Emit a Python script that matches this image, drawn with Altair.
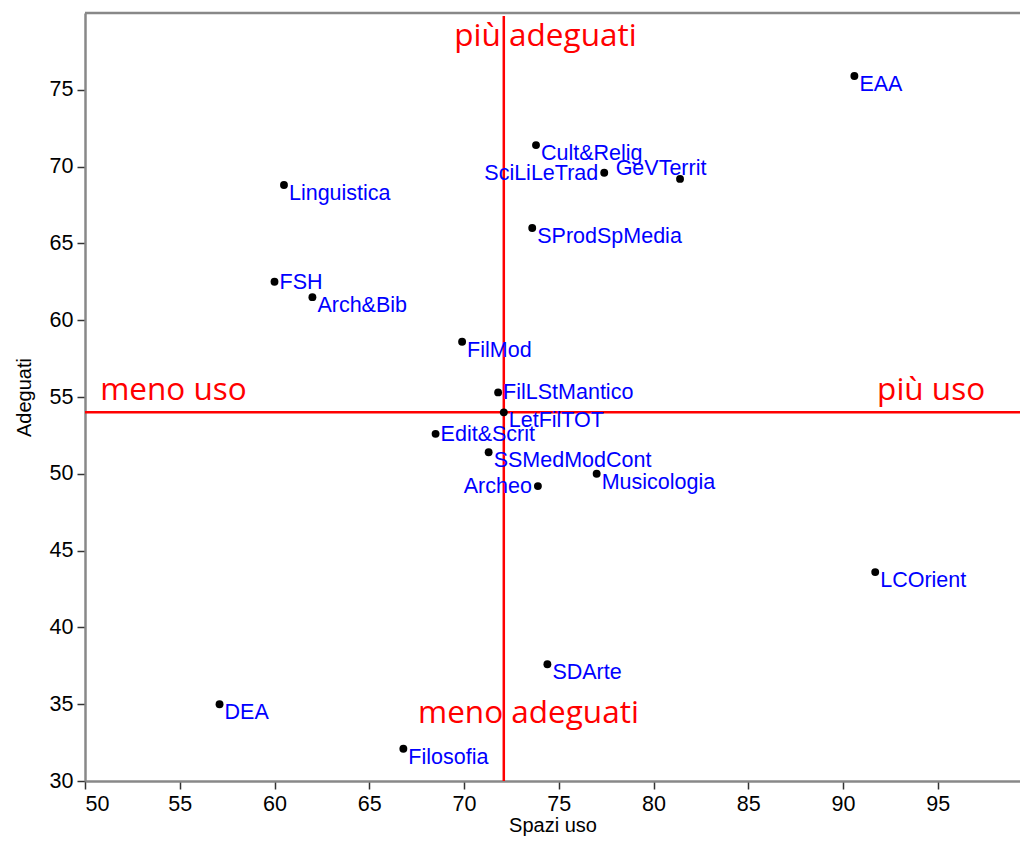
import altair as alt
import pandas as pd

# ---- data ----
names = ["EAA", "Cult&Relig", "SciLiLeTrad", "GeVTerrit", "Linguistica", "SProdSpMedia",
         "FSH", "Arch&Bib", "FilMod", "FilLStMantico", "LetFilTOT", "Edit&Scrit",
         "SSMedModCont", "Archeo", "Musicologia", "LCOrient", "SDArte", "DEA", "Filosofia"]
spazi_uso = [90.6, 73.8, 77.4, 81.4, 60.5, 73.6,
             60.0, 62.0, 69.9, 71.8, 72.1, 68.5,
             71.3, 73.9, 77.0, 91.7, 74.4, 57.1, 66.8]
adeguati = [75.9, 71.4, 69.6, 69.2, 68.8, 66.0,
            62.5, 61.5, 58.6, 55.3, 54.0, 52.6,
            51.4, 49.2, 50.0, 43.6, 37.6, 35.0, 32.1]
# label placement code: br = right/below, r = right, l = left, a = above
label_pos = ["br", "br", "l", "a", "br", "br",
             "r", "br", "br", "r", "br", "r",
             "br", "l", "br", "br", "br", "br", "br"]

ref_x = 72.1   # LetFilTOT
ref_y = 54.0

quad_text = ["più adeguati", "meno adeguati", "meno uso", "più uso"]
quad_x = [74.3, 73.4, 50.8, 97.5]
quad_y = [77.85, 33.8, 54.8, 54.8]
quad_align = ["center", "center", "left", "right"]

x_ticks = [50, 55, 60, 65, 70, 75, 80, 85, 90, 95]
y_ticks = [30, 35, 40, 45, 50, 55, 60, 65, 70, 75]

df = pd.DataFrame({"name": names, "x": spazi_uso, "y": adeguati, "pos": label_pos})
qdf = pd.DataFrame({"text": quad_text, "x": quad_x, "y": quad_y, "align": quad_align})

W, H = 935, 768
xscale = alt.Scale(domain=[50, 99.34], nice=False, zero=False)
yscale = alt.Scale(domain=[30, 80], nice=False, zero=False)
xaxis = alt.Axis(values=x_ticks, title="Spazi uso", grid=False)
yaxis = alt.Axis(values=y_ticks, title="Adeguati", grid=False)

X = alt.X("x:Q", scale=xscale, axis=xaxis)
Y = alt.Y("y:Q", scale=yscale, axis=yaxis)

border = alt.Chart(pd.DataFrame({"a": [0]})).mark_rule(color="#888888", strokeWidth=2.5).encode(
    x=alt.value(0), x2=alt.value(W), y=alt.value(0))

hline = alt.Chart(pd.DataFrame({"y": [ref_y]})).mark_rule(color="#ff0000", strokeWidth=2.5).encode(y=Y)
vline = alt.Chart(pd.DataFrame({"x": [ref_x]})).mark_rule(color="#ff0000", strokeWidth=2.5).encode(
    x=X, y=alt.value(3), y2=alt.value(H))

points = alt.Chart(df).mark_circle(size=62, color="black", opacity=1).encode(x=X, y=Y)

lab_font = dict(font="Liberation Sans", fontSize=21.5, color="#0000ff")
lab_br = alt.Chart(df).transform_filter(alt.datum.pos == "br").mark_text(
    align="left", baseline="top", dx=5, dy=-2, **lab_font).encode(x=X, y=Y, text="name:N")
lab_r = alt.Chart(df).transform_filter(alt.datum.pos == "r").mark_text(
    align="left", baseline="middle", dx=5, dy=1, **lab_font).encode(x=X, y=Y, text="name:N")
lab_l = alt.Chart(df).transform_filter(alt.datum.pos == "l").mark_text(
    align="right", baseline="middle", dx=-6, dy=1, **lab_font).encode(x=X, y=Y, text="name:N")
lab_a = alt.Chart(df).transform_filter(alt.datum.pos == "a").mark_text(
    align="center", baseline="alphabetic", dx=-19, dy=-4, **lab_font).encode(x=X, y=Y, text="name:N")

q_font = dict(font="Open Sans", fontSize=31.5, color="#ff0000", baseline="alphabetic")
q_layers = []
for al in ["center", "left", "right"]:
    q_layers.append(
        alt.Chart(qdf).transform_filter(alt.datum.align == al).mark_text(align=al, **q_font)
        .encode(x=X, y=Y, text="text:N"))

chart = alt.layer(border, hline, vline, *q_layers, points, lab_br, lab_r, lab_l, lab_a).properties(
    width=W, height=H,
    autosize=alt.AutoSizeParams(type="none"),
    padding={"left": 77, "top": 5, "right": 0, "bottom": 56},
    background="white",
).configure_view(stroke=None).configure_axis(
    labelFont="Liberation Sans", labelFontSize=21.5, labelColor="black",
    titleFont="Liberation Sans", titleFontSize=20, titleFontWeight="normal", titleColor="black",
    domainColor="#888888", domainWidth=2.5,
    tickColor="#333333", tickWidth=1.5, tickSize=8,
).configure_axisY(labelPadding=4, titlePadding=15).configure_axisX(labelPadding=4, titlePadding=1)

chart.save("out.html", embed_options={"renderer": "svg", "actions": False})
